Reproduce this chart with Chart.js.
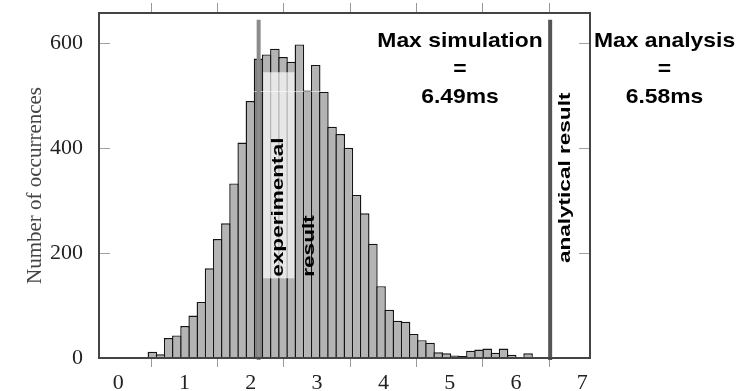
<!DOCTYPE html>
<html>
<head>
<meta charset="utf-8">
<title>Histogram</title>
<script src="https://cdn.jsdelivr.net/npm/chart.js@4/dist/chart.umd.min.js"></script>
<style>
  body { margin: 0; background: #fff; }
  #wrap { width: 753px; height: 391px; }
</style>
</head>
<body>
<div id="wrap"><canvas id="histChart" width="753" height="391"></canvas></div>
<script>
// ── Data ─────────────────────────────────────────────────
const counts = [2, 12, 7, 38, 43, 61, 81, 107, 171, 227, 257, 333, 411, 490, 571, 579, 590, 574, 565, 598,
                510, 559, 508, 441, 427, 401, 311, 276, 218, 137, 92, 71, 69, 46, 34, 29, 11, 9, 5, 4,
                14, 16, 18, 10, 18, 6, 2, 9, 0, 1];
const binStart = 0.33;     // first bin edge (ms)
const binWidth = 0.1232;   // 50 bins up to 6.49 ms
const xTicks = [0, 1, 2, 3, 4, 5, 6, 7];
const yTicks = [0, 200, 400, 600];

const experimentalAt = 2.118;
const analyticalAt   = 6.515;
const simNote = ['Max simulation', '=', '6.49ms'];
const anaNote = ['Max analysis', '=', '6.58ms'];

const binCenters = counts.map((_, i) => +(binStart + (i + 0.5) * binWidth).toFixed(4));

// ── Look ─────────────────────────────────────────────────
const SANS  = "'Liberation Sans', Arial, sans-serif";
const SERIF = "'Liberation Serif', 'DejaVu Serif', serif";
const X_MIN = -0.29, X_MAX = 7.116, Y_MAX = 658;

const markers = [
    { x: experimentalAt, top: 645, color: '#8c8c8c' },
    { x: analyticalAt,   top: 645, color: '#555555' },
];
const labelBox = { x0: 2.187, x1: 2.655, y0: 152, y1: 545 };
const notes = [
    { lines: simNote, x: 5.155, y: 593 },
    { lines: anaNote, x: 8.24,  y: 593 },
];
const sideLabels = [
    { text: 'experimental',      x: 2.489, y: 155 },
    { text: 'result',            x: 2.955, y: 155 },
    { text: 'analytical result', x: 6.81,  y: 181 },
];

function stretchText(ctx, text, x, y, sx, angle) {
    ctx.save();
    ctx.translate(x, y);
    if (angle) ctx.rotate(angle);
    ctx.scale(sx, 1);
    ctx.fillText(text, 0, 0);
    ctx.restore();
}

function noPad(s) { s.paddingTop = 0; s.paddingBottom = 0; s.paddingLeft = 0; s.paddingRight = 0; }

const overlay = {
    id: 'overlay',
    afterDatasetsDraw(chart) {
        const { ctx, chartArea: a, scales: { x, y } } = chart;
        ctx.save();

        // faint line across the bars
        ctx.strokeStyle = 'rgba(255,255,255,0.55)'; ctx.lineWidth = 1;
        ctx.beginPath();
        const fy = Math.round(y.getPixelForValue(510)) + 0.5;
        ctx.moveTo(a.left, fy); ctx.lineTo(a.right, fy); ctx.stroke();

        // label background
        ctx.fillStyle = 'rgba(255,255,255,0.68)';
        const bx0 = x.getPixelForValue(labelBox.x0), bx1 = x.getPixelForValue(labelBox.x1);
        const by0 = y.getPixelForValue(labelBox.y1), by1 = y.getPixelForValue(labelBox.y0);
        ctx.fillRect(bx0, by0, bx1 - bx0, by1 - by0);

        // result markers
        markers.forEach(m => {
            const px = x.getPixelForValue(m.x);
            ctx.strokeStyle = m.color; ctx.lineWidth = 4;
            ctx.beginPath();
            ctx.moveTo(px, y.getPixelForValue(0) + 2);
            ctx.lineTo(px, y.getPixelForValue(m.top));
            ctx.stroke();
        });

        // frame
        ctx.strokeStyle = '#444'; ctx.lineWidth = 2;
        ctx.strokeRect(a.left, a.top, a.right - a.left, a.bottom - a.top);

        // inward y ticks on both sides
        ctx.strokeStyle = '#a0a0a0'; ctx.lineWidth = 1;
        y.ticks.forEach(t => {
            if (t.value === 0) return;
            const py = Math.round(y.getPixelForValue(t.value)) + 0.5;
            ctx.beginPath();
            ctx.moveTo(a.left + 1, py); ctx.lineTo(a.left + 11, py);
            ctx.moveTo(a.right - 11, py); ctx.lineTo(a.right - 1, py);
            ctx.stroke();
        });

        // max notes
        ctx.fillStyle = '#000';
        ctx.font = `bold 21px ${SANS}`;
        ctx.textAlign = 'center'; ctx.textBaseline = 'alphabetic';
        notes.forEach(n => {
            const px = x.getPixelForValue(n.x);
            const py = y.getPixelForValue(n.y);
            n.lines.forEach((line, i) => stretchText(ctx, line, px, py + i * 27.8, 1.09, 0));
        });

        // rotated labels
        ctx.font = `bold 16px ${SANS}`;
        ctx.textAlign = 'left';
        sideLabels.forEach(l => {
            stretchText(ctx, l.text, x.getPixelForValue(l.x), y.getPixelForValue(l.y), 1.41, -Math.PI / 2);
        });

        ctx.restore();
    }
};

const xScaleBase = {
    type: 'linear', min: X_MIN, max: X_MAX, offset: false,
    afterBuildTicks: s => { s.ticks = xTicks.map(v => ({ value: v })); },
    border: { display: false },
};

new Chart(document.getElementById('histChart'), {
    type: 'bar',
    data: {
        labels: binCenters,
        datasets: [{
            label: 'Occurrences',
            data: binCenters.map((c, i) => ({ x: c, y: counts[i] })),
            backgroundColor: ctx => {
                const c = binCenters[ctx.dataIndex];
                return Math.abs(c - experimentalAt) < binWidth / 2 ? '#777777' : '#b4b4b4';
            },
            borderColor: '#151515',
            borderWidth: 1.4,
            barPercentage: 1.17,
            categoryPercentage: 1,
            inflateAmount: 0,
        }],
    },
    options: {
        responsive: false,
        animation: false,
        devicePixelRatio: 1,
        layout: { padding: { top: 0, right: 163, bottom: 0, left: 0 } },
        plugins: { legend: { display: false }, tooltip: { enabled: false } },
        scales: {
            x: {
                ...xScaleBase, position: 'bottom',
                afterFit: s => { s.height = 33; noPad(s); },
                grid: { drawOnChartArea: false, drawTicks: true, tickLength: 9, color: '#9a9a9a' },
                ticks: { font: { family: SERIF, size: 22 }, color: '#222', padding: 3, maxRotation: 0 },
            },
            xTop: {
                ...xScaleBase, position: 'top',
                afterFit: s => { s.height = 13; noPad(s); },
                grid: { drawOnChartArea: false, drawTicks: true, tickLength: 10, color: '#9a9a9a' },
                ticks: { display: false },
            },
            y: {
                min: 0, max: Y_MAX,
                afterBuildTicks: s => { s.ticks = yTicks.map(v => ({ value: v })); },
                afterFit: s => { s.width = 99; noPad(s); },
                grid: { display: false },
                border: { display: false },
                ticks: { font: { family: SERIF, size: 22 }, color: '#222', padding: 8 },
                title: {
                    display: true, text: 'Number of occurrences',
                    font: { family: SERIF, size: 21 }, color: '#444',
                    padding: { top: 23, bottom: 0 },
                },
            },
        },
    },
    plugins: [overlay],
});
</script>
</body>
</html>
